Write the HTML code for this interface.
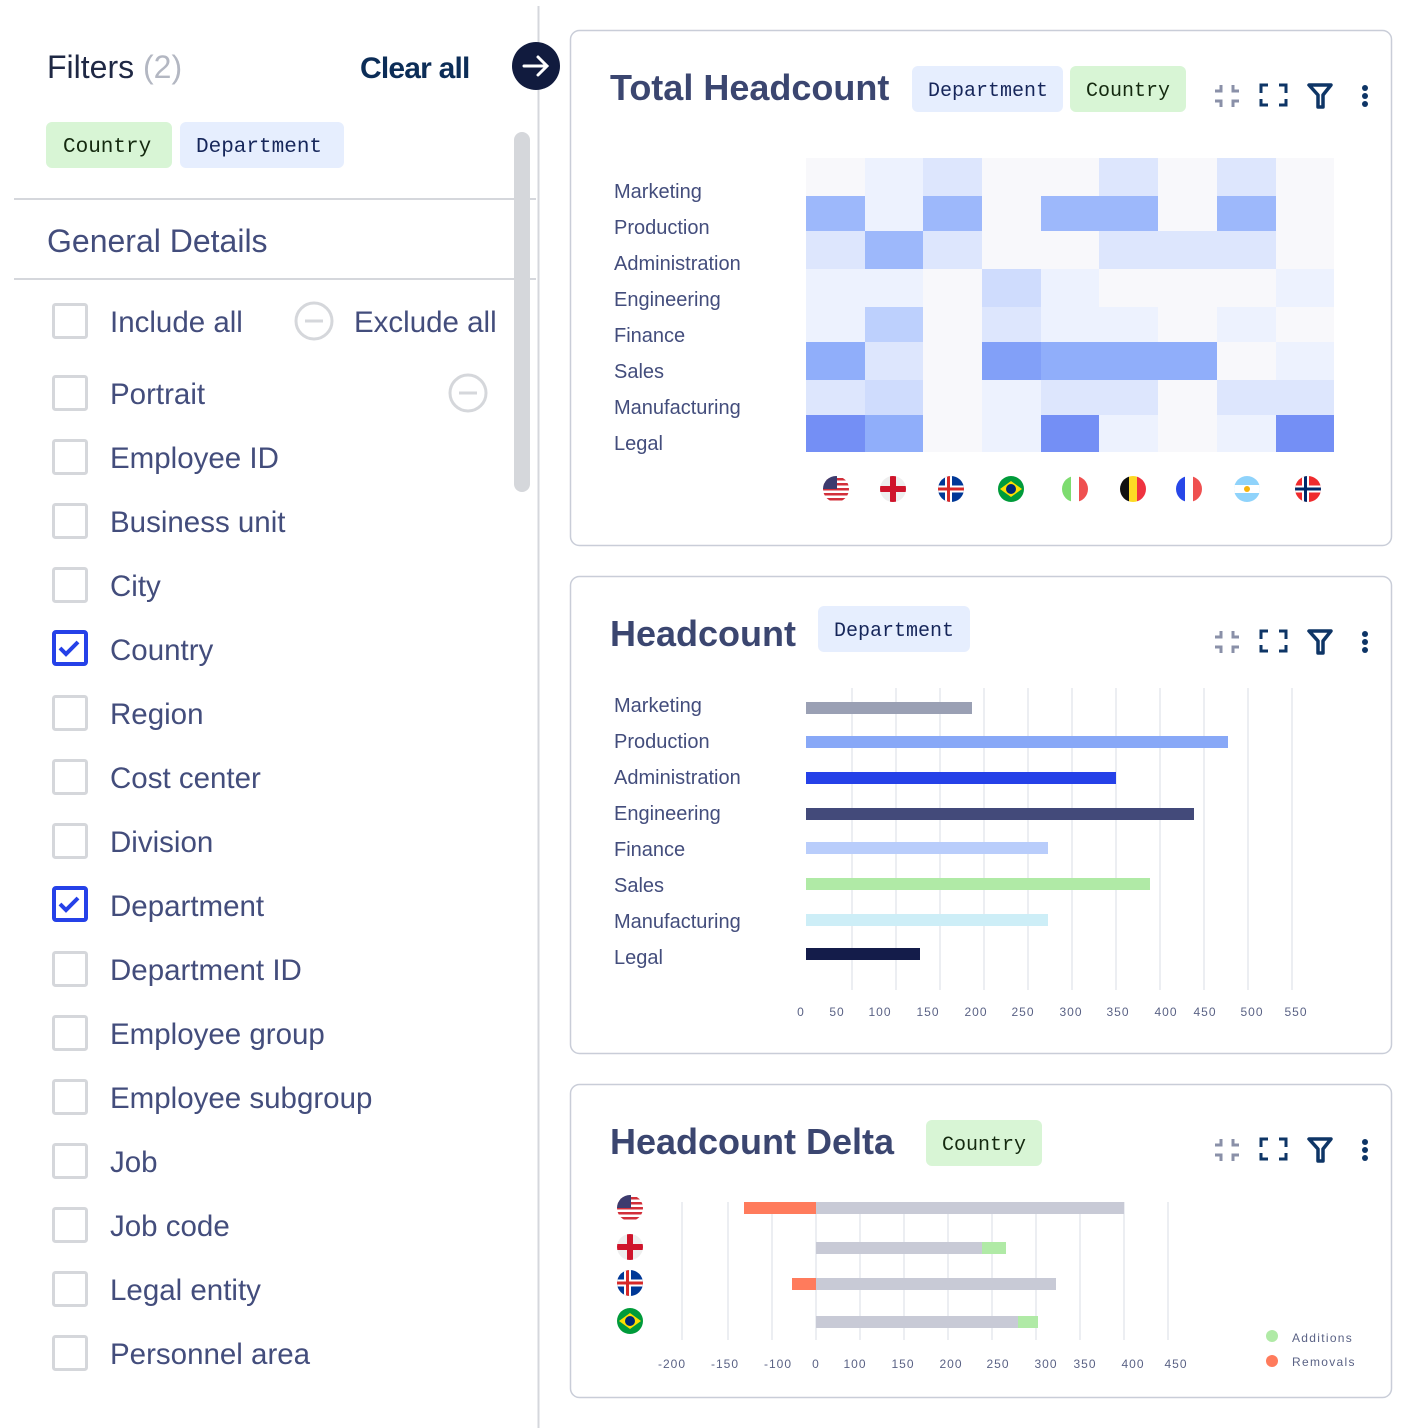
<!DOCTYPE html><html><head><meta charset="utf-8"><style>html,body{margin:0;padding:0;background:#fff}svg{display:block}text{font-family:"Liberation Sans",sans-serif}.m{font-family:"Liberation Mono",monospace}</style></head><body>
<svg width="1428" height="1428" viewBox="0 0 1428 1428" xmlns="http://www.w3.org/2000/svg">
<defs>
<clipPath id="fc"><circle r="13" cx="0" cy="0"/></clipPath>
<g id="us"><g clip-path="url(#fc)"><rect x="-13" y="-13" width="26" height="26" fill="#fff"/><rect x="-13" y="-11" width="26" height="2.5" fill="#d22f3a"/><rect x="-13" y="-6" width="26" height="2.5" fill="#d22f3a"/><rect x="-13" y="-1" width="26" height="2.5" fill="#d22f3a"/><rect x="-13" y="4" width="26" height="2.5" fill="#d22f3a"/><rect x="-13" y="9" width="26" height="2.5" fill="#d22f3a"/><rect x="-13" y="-13" width="14" height="13" fill="#3c3b6e"/></g></g>
<g id="en"><g clip-path="url(#fc)"><rect x="-13" y="-13" width="26" height="26" fill="#eee"/><rect x="-13" y="-3" width="26" height="6" fill="#cf142b"/><rect x="-3" y="-13" width="6" height="26" fill="#cf142b"/></g></g>
<g id="is"><g clip-path="url(#fc)"><rect x="-13" y="-13" width="26" height="26" fill="#003897"/><rect x="-13" y="-3.5" width="26" height="7" fill="#fff"/><rect x="-6" y="-13" width="7" height="26" fill="#fff"/><rect x="-13" y="-1.5" width="26" height="3" fill="#d72828"/><rect x="-4" y="-13" width="3" height="26" fill="#d72828"/></g></g>
<g id="br"><g clip-path="url(#fc)"><rect x="-13" y="-13" width="26" height="26" fill="#009b3a"/><polygon points="-11,0 0,-8 11,0 0,8" fill="#fedf00"/><circle r="5" fill="#002776"/></g></g>
<g id="it"><g clip-path="url(#fc)"><rect x="-13" y="-13" width="9" height="26" fill="#7ddc6f"/><rect x="-4" y="-13" width="8" height="26" fill="#fff"/><rect x="4" y="-13" width="9" height="26" fill="#ef5050"/></g></g>
<g id="be"><g clip-path="url(#fc)"><rect x="-13" y="-13" width="9" height="26" fill="#111"/><rect x="-4" y="-13" width="8" height="26" fill="#fdda24"/><rect x="4" y="-13" width="9" height="26" fill="#ef3340"/></g></g>
<g id="fr"><g clip-path="url(#fc)"><rect x="-13" y="-13" width="9" height="26" fill="#2747e8"/><rect x="-4" y="-13" width="8" height="26" fill="#fff"/><rect x="4" y="-13" width="9" height="26" fill="#ef5050"/></g></g>
<g id="ar"><g clip-path="url(#fc)"><rect x="-13" y="-13" width="26" height="26" fill="#8fd3fb"/><rect x="-13" y="-4" width="26" height="8" fill="#fff"/><circle r="3" fill="#f6b40e"/></g></g>
<g id="no"><g clip-path="url(#fc)"><rect x="-13" y="-13" width="26" height="26" fill="#ef2b2d"/><rect x="-13" y="-3.5" width="26" height="7" fill="#fff"/><rect x="-6" y="-13" width="7" height="26" fill="#fff"/><rect x="-13" y="-1.5" width="26" height="3" fill="#002868"/><rect x="-4" y="-13" width="3" height="26" fill="#002868"/></g></g>
<g id="icons">
<g stroke="#8a90a8" stroke-width="3" fill="none"><path d="M-12,-8 h6 v-6 M12,-8 h-6 v-6 M-12,2 h6 v6 M12,2 h-6 v6"/></g>
<g stroke="#0e3566" stroke-width="3" fill="none"><path d="M34,-6 v-8 h7 M52,-14 h7 v8 M34,0 v6 h7 M52,6 h7 v-6"/></g>
<path d="M82,-14 h22 l-8,10 v12 h-5 v-12 z" fill="none" stroke="#0e3566" stroke-width="3.5" stroke-linejoin="round"/>
<circle cx="138" cy="-11" r="3" fill="#0e3566"/><circle cx="138" cy="-3" r="3" fill="#0e3566"/><circle cx="138" cy="5" r="3" fill="#0e3566"/>
</g>
</defs>

<!-- LEFT PANEL -->
<line x1="538.5" y1="6" x2="538.5" y2="1428" stroke="#d5d7dc" stroke-width="2"/>
<text x="47" y="78" font-size="32" fill="#1f2844">Filters <tspan fill="#b3b7c2">(2)</tspan></text>
<text x="360" y="78" font-size="30" fill="#0c2d57" font-weight="bold" letter-spacing="-0.8">Clear all</text>
<circle cx="536" cy="66" r="24" fill="#111b3e"/>
<path d="M524,66 h22 M538,57 l9,9 l-9,9" stroke="#fff" stroke-width="3" fill="none" stroke-linecap="round"/>
<rect x="46" y="122" width="126" height="46" rx="6" fill="#d8f5d5"/>
<text x="63" y="152" font-size="21" class="m" fill="#14290f">Country</text>
<rect x="180" y="122" width="164" height="46" rx="6" fill="#e6eefe"/>
<text x="196" y="152" font-size="21" class="m" fill="#16265a">Department</text>
<line x1="14" y1="199" x2="536" y2="199" stroke="#d5d7dc" stroke-width="2"/>
<text x="47" y="252" font-size="32" fill="#434d7c">General Details</text>
<line x1="14" y1="279" x2="536" y2="279" stroke="#d5d7dc" stroke-width="2"/>
<rect x="514" y="132" width="16" height="360" rx="8" fill="#d5d7db"/>
<g fill="none" stroke="#d5d7db" stroke-width="3">
<rect x="53.5" y="304.5" width="33" height="33" rx="2"/>
<circle cx="314" cy="321" r="18"/><line x1="305" y1="321" x2="323" y2="321"/>
<rect x="53.5" y="376.5" width="33" height="33" rx="2"/>
<circle cx="468" cy="393" r="18"/><line x1="459" y1="393" x2="477" y2="393"/>
<rect x="53.5" y="440.5" width="33" height="33" rx="2"/>
<rect x="53.5" y="504.5" width="33" height="33" rx="2"/>
<rect x="53.5" y="568.5" width="33" height="33" rx="2"/>
<rect x="53.5" y="696.5" width="33" height="33" rx="2"/>
<rect x="53.5" y="760.5" width="33" height="33" rx="2"/>
<rect x="53.5" y="824.5" width="33" height="33" rx="2"/>
<rect x="53.5" y="952.5" width="33" height="33" rx="2"/>
<rect x="53.5" y="1016.5" width="33" height="33" rx="2"/>
<rect x="53.5" y="1080.5" width="33" height="33" rx="2"/>
<rect x="53.5" y="1144.5" width="33" height="33" rx="2"/>
<rect x="53.5" y="1208.5" width="33" height="33" rx="2"/>
<rect x="53.5" y="1272.5" width="33" height="33" rx="2"/>
<rect x="53.5" y="1336.5" width="33" height="33" rx="2"/>
</g>
<g fill="none" stroke="#2541e8" stroke-width="4">
<rect x="54" y="632" width="32" height="32" rx="2"/><path d="M60,648 l6,6 l12,-12"/>
<rect x="54" y="888" width="32" height="32" rx="2"/><path d="M60,904 l6,6 l12,-12"/>
</g>
<g font-size="29.5" fill="#434d7c">
<text x="110" y="332">Include all</text><text x="354" y="332">Exclude all</text>
<text x="110" y="404">Portrait</text>
<text x="110" y="468">Employee ID</text>
<text x="110" y="532">Business unit</text>
<text x="110" y="596">City</text>
<text x="110" y="660">Country</text>
<text x="110" y="724">Region</text>
<text x="110" y="788">Cost center</text>
<text x="110" y="852">Division</text>
<text x="110" y="916">Department</text>
<text x="110" y="980">Department ID</text>
<text x="110" y="1044">Employee group</text>
<text x="110" y="1108">Employee subgroup</text>
<text x="110" y="1172">Job</text>
<text x="110" y="1236">Job code</text>
<text x="110" y="1300">Legal entity</text>
<text x="110" y="1364">Personnel area</text>
</g>

<!-- CARDS -->
<g fill="none" stroke="#c9cdd8" stroke-width="1.5">
<rect x="570.5" y="30.5" width="821" height="515" rx="9"/>
<rect x="570.5" y="576.5" width="821" height="477" rx="9"/>
<rect x="570.5" y="1084.5" width="821" height="313" rx="9"/>
</g>

<!-- Card 1 -->
<text x="610" y="100" font-size="36" font-weight="bold" fill="#3b4670">Total Headcount</text>
<rect x="912" y="66" width="151" height="46" rx="6" fill="#e6eefe"/>
<text x="928" y="96" font-size="20" class="m" fill="#16265a">Department</text>
<rect x="1070" y="66" width="116" height="46" rx="6" fill="#d8f5d5"/>
<text x="1086" y="96" font-size="20" class="m" fill="#14290f">Country</text>
<use href="#icons" x="1227" y="99"/>
<g font-size="20" fill="#434d7c">
<text x="614" y="198">Marketing</text><text x="614" y="234">Production</text><text x="614" y="270">Administration</text><text x="614" y="306">Engineering</text><text x="614" y="342">Finance</text><text x="614" y="378">Sales</text><text x="614" y="414">Manufacturing</text><text x="614" y="450">Legal</text>
</g>
<g>
<rect x="806" y="158" width="528" height="294" fill="#f8f8fb"/>
<rect x="865" y="158" width="58" height="38" fill="#edf2fe"/><rect x="923" y="158" width="59" height="38" fill="#dde6fd"/><rect x="1099" y="158" width="59" height="38" fill="#dde6fd"/><rect x="1217" y="158" width="59" height="38" fill="#dde6fd"/>
<rect x="806" y="196" width="59" height="35" fill="#9db8fb"/><rect x="865" y="196" width="58" height="35" fill="#edf2fe"/><rect x="923" y="196" width="59" height="35" fill="#9db8fb"/><rect x="1041" y="196" width="117" height="35" fill="#9db8fb"/><rect x="1217" y="196" width="59" height="35" fill="#9db8fb"/>
<rect x="806" y="231" width="59" height="38" fill="#dde6fd"/><rect x="865" y="231" width="58" height="38" fill="#9db8fb"/><rect x="923" y="231" width="59" height="38" fill="#dde6fd"/><rect x="1099" y="231" width="177" height="38" fill="#dde6fd"/>
<rect x="806" y="269" width="117" height="38" fill="#edf2fe"/><rect x="982" y="269" width="59" height="38" fill="#cfdcfd"/><rect x="1041" y="269" width="58" height="38" fill="#edf2fe"/><rect x="1276" y="269" width="58" height="38" fill="#edf2fe"/>
<rect x="806" y="307" width="59" height="35" fill="#edf2fe"/><rect x="865" y="307" width="58" height="35" fill="#bdd0fd"/><rect x="982" y="307" width="59" height="35" fill="#dde6fd"/><rect x="1041" y="307" width="117" height="35" fill="#edf2fe"/><rect x="1217" y="307" width="59" height="35" fill="#edf2fe"/>
<rect x="806" y="342" width="59" height="38" fill="#90aefa"/><rect x="865" y="342" width="58" height="38" fill="#dde6fd"/><rect x="982" y="342" width="59" height="38" fill="#82a0f8"/><rect x="1041" y="342" width="176" height="38" fill="#90aefa"/><rect x="1276" y="342" width="58" height="38" fill="#edf2fe"/>
<rect x="806" y="380" width="59" height="35" fill="#dde6fd"/><rect x="865" y="380" width="58" height="35" fill="#cfdcfd"/><rect x="982" y="380" width="59" height="35" fill="#edf2fe"/><rect x="1041" y="380" width="117" height="35" fill="#dde6fd"/><rect x="1217" y="380" width="117" height="35" fill="#dde6fd"/>
<rect x="806" y="415" width="59" height="37" fill="#748ff5"/><rect x="865" y="415" width="58" height="37" fill="#90aefa"/><rect x="982" y="415" width="59" height="37" fill="#edf2fe"/><rect x="1041" y="415" width="58" height="37" fill="#748ff5"/><rect x="1099" y="415" width="59" height="37" fill="#edf2fe"/><rect x="1217" y="415" width="59" height="37" fill="#edf2fe"/><rect x="1276" y="415" width="58" height="37" fill="#748ff5"/>
</g>
<use href="#us" x="836" y="489"/><use href="#en" x="893" y="489"/><use href="#is" x="951" y="489"/><use href="#br" x="1011" y="489"/><use href="#it" x="1075" y="489"/><use href="#be" x="1133" y="489"/><use href="#fr" x="1189" y="489"/><use href="#ar" x="1247" y="489"/><use href="#no" x="1308" y="489"/>

<!-- Card 2 -->
<text x="610" y="646" font-size="36" font-weight="bold" fill="#3b4670">Headcount</text>
<rect x="818" y="606" width="152" height="46" rx="6" fill="#e6eefe"/>
<text x="834" y="636" font-size="20" class="m" fill="#16265a">Department</text>
<use href="#icons" x="1227" y="645"/>
<g stroke="#e6e8ee" stroke-width="1.5">
<line x1="852" y1="688" x2="852" y2="990"/><line x1="896" y1="688" x2="896" y2="990"/><line x1="940" y1="688" x2="940" y2="990"/><line x1="984" y1="688" x2="984" y2="990"/><line x1="1028" y1="688" x2="1028" y2="990"/><line x1="1072" y1="688" x2="1072" y2="990"/><line x1="1116" y1="688" x2="1116" y2="990"/><line x1="1160" y1="688" x2="1160" y2="990"/><line x1="1204" y1="688" x2="1204" y2="990"/><line x1="1248" y1="688" x2="1248" y2="990"/><line x1="1292" y1="688" x2="1292" y2="990"/>
</g>
<g font-size="20" fill="#434d7c">
<text x="614" y="712">Marketing</text><text x="614" y="748">Production</text><text x="614" y="784">Administration</text><text x="614" y="820">Engineering</text><text x="614" y="856">Finance</text><text x="614" y="892">Sales</text><text x="614" y="928">Manufacturing</text><text x="614" y="964">Legal</text>
</g>
<rect x="806" y="702" width="166" height="12" fill="#9aa0b4"/>
<rect x="806" y="736" width="422" height="12" fill="#88a8f7"/>
<rect x="806" y="772" width="310" height="12" fill="#2541e8"/>
<rect x="806" y="808" width="388" height="12" fill="#434a7a"/>
<rect x="806" y="842" width="242" height="12" fill="#b9cdfb"/>
<rect x="806" y="878" width="344" height="12" fill="#b0eaa6"/>
<rect x="806" y="914" width="242" height="12" fill="#cdeef7"/>
<rect x="806" y="948" width="114" height="12" fill="#141c4a"/>
<g font-size="12" fill="#5a6285" text-anchor="middle" letter-spacing="1">
<text x="801" y="1016">0</text><text x="837" y="1016">50</text><text x="880" y="1016">100</text><text x="928" y="1016">150</text><text x="976" y="1016">200</text><text x="1023" y="1016">250</text><text x="1071" y="1016">300</text><text x="1118" y="1016">350</text><text x="1166" y="1016">400</text><text x="1205" y="1016">450</text><text x="1252" y="1016">500</text><text x="1296" y="1016">550</text>
</g>

<!-- Card 3 -->
<text x="610" y="1154" font-size="36" font-weight="bold" fill="#3b4670">Headcount Delta</text>
<rect x="926" y="1120" width="116" height="46" rx="6" fill="#d8f5d5"/>
<text x="942" y="1150" font-size="20" class="m" fill="#14290f">Country</text>
<use href="#icons" x="1227" y="1153"/>
<g stroke="#e6e8ee" stroke-width="1.5">
<line x1="682" y1="1202" x2="682" y2="1340"/><line x1="728" y1="1202" x2="728" y2="1340"/><line x1="772" y1="1202" x2="772" y2="1340"/><line x1="816" y1="1202" x2="816" y2="1340"/><line x1="860" y1="1202" x2="860" y2="1340"/><line x1="904" y1="1202" x2="904" y2="1340"/><line x1="948" y1="1202" x2="948" y2="1340"/><line x1="992" y1="1202" x2="992" y2="1340"/><line x1="1036" y1="1202" x2="1036" y2="1340"/><line x1="1080" y1="1202" x2="1080" y2="1340"/><line x1="1124" y1="1202" x2="1124" y2="1340"/><line x1="1168" y1="1202" x2="1168" y2="1340"/>
</g>
<rect x="744" y="1202" width="72" height="12" fill="#ff7b5c"/><rect x="816" y="1202" width="308" height="12" fill="#c8cad6"/>
<rect x="816" y="1242" width="166" height="12" fill="#c8cad6"/><rect x="982" y="1242" width="24" height="12" fill="#b0eaa6"/>
<rect x="792" y="1278" width="24" height="12" fill="#ff7b5c"/><rect x="816" y="1278" width="240" height="12" fill="#c8cad6"/>
<rect x="816" y="1316" width="202" height="12" fill="#c8cad6"/><rect x="1018" y="1316" width="20" height="12" fill="#b0eaa6"/>
<use href="#us" x="630" y="1208"/><use href="#en" x="630" y="1247"/><use href="#is" x="630" y="1283"/><use href="#br" x="630" y="1321"/>
<g font-size="12" fill="#5a6285" text-anchor="middle" letter-spacing="1">
<text x="672" y="1368">-200</text><text x="725" y="1368">-150</text><text x="778" y="1368">-100</text><text x="816" y="1368">0</text><text x="855" y="1368">100</text><text x="903" y="1368">150</text><text x="951" y="1368">200</text><text x="998" y="1368">250</text><text x="1046" y="1368">300</text><text x="1085" y="1368">350</text><text x="1133" y="1368">400</text><text x="1176" y="1368">450</text>
</g>
<circle cx="1272" cy="1336" r="6" fill="#b0eaa6"/><text x="1292" y="1342" font-size="12" fill="#5a6285" letter-spacing="1.3">Additions</text>
<circle cx="1272" cy="1361" r="6" fill="#ff7b5c"/><text x="1292" y="1366" font-size="12" fill="#5a6285" letter-spacing="1.3">Removals</text>
</svg>
</body></html>
